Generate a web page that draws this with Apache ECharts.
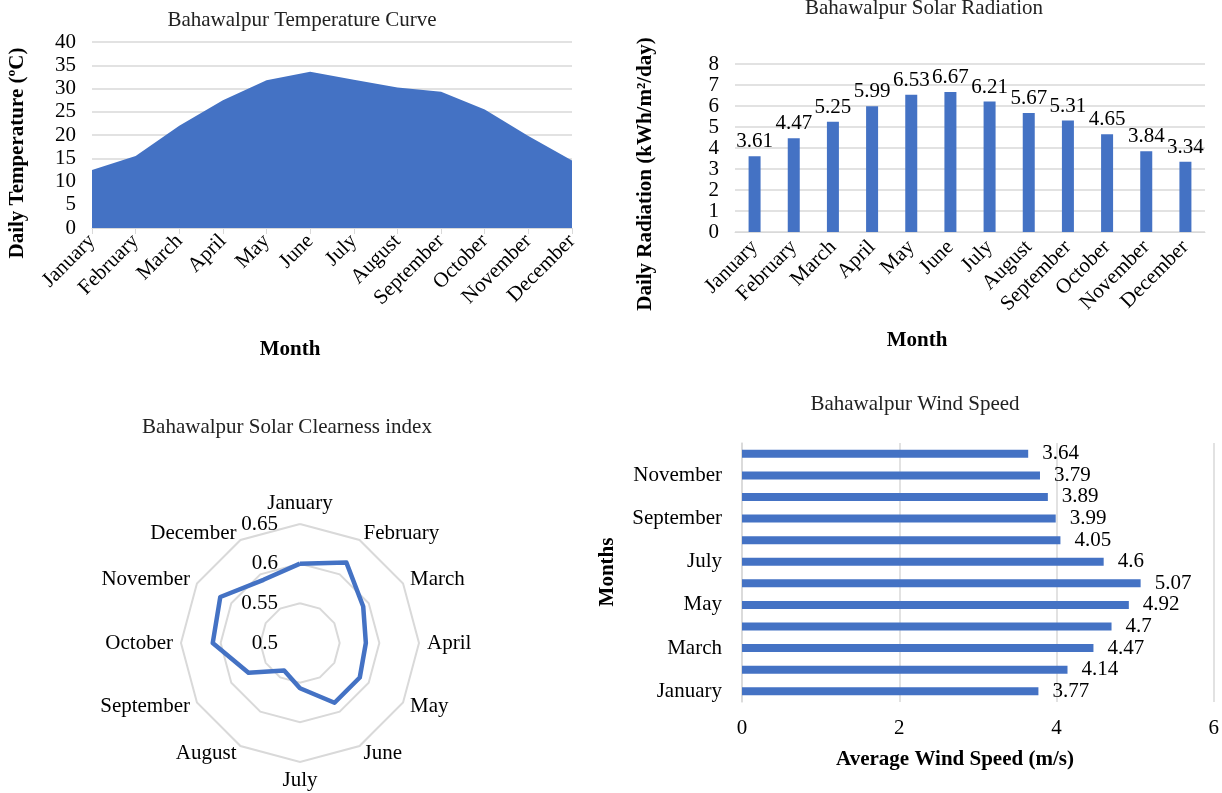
<!DOCTYPE html>
<html>
<head>
<meta charset="utf-8">
<script src="https://cdn.jsdelivr.net/npm/echarts@6/dist/echarts.min.js"></script>
<style>
  html, body { margin: 0; padding: 0; background: #fff; }
  #main { width: 1222px; height: 793px; }
</style>
</head>
<body>
<div id="main"></div>
<script>
// data
const months = ['January', 'February', 'March', 'April', 'May', 'June', 'July',
  'August', 'September', 'October', 'November', 'December'];
const temperature = [12.5, 15.5, 22, 27.5, 31.8, 33.6, 31.9, 30.2, 29.3, 25.5, 19.8, 14.5];
const radiation = [3.61, 4.47, 5.25, 5.99, 6.53, 6.67, 6.21, 5.67, 5.31, 4.65, 3.84, 3.34];
const clearness = [0.600, 0.617, 0.592, 0.583, 0.587, 0.587, 0.557, 0.540, 0.575, 0.610, 0.616, 0.592];
const windSpeed = [3.77, 4.14, 4.47, 4.7, 4.92, 5.07, 4.6, 4.05, 3.99, 3.89, 3.79, 3.64];
const tempTicks = [0, 5, 10, 15, 20, 25, 30, 35, 40];
const radTicks = [0, 1, 2, 3, 4, 5, 6, 7, 8];
const clearTicks = [0.5, 0.55, 0.6, 0.65];
const windTicks = [0, 2, 4, 6];

const FONT = 'Liberation Serif';
const BLUE = '#4472C4';
const GRID = '#d9d9d9';
const FS = 21;

// radar in echarts runs counter-clockwise, Excel runs clockwise -> reverse after January
const radarOrder = [0].concat(months.slice(1).map((m, i) => i + 1).reverse());

const myChart = echarts.init(document.getElementById('main'));

const titleStyle = { fontFamily: FONT, fontSize: 21, fontWeight: 'normal', color: '#222' };
const tickLabel = { fontFamily: FONT, fontSize: FS, color: '#000' };

function axisTitle(text, x, y, vertical) {
  return {
    type: 'text', x: x, y: y, rotation: vertical ? Math.PI / 2 : 0,
    style: {
      text: text, font: 'bold ' + FS + 'px "' + FONT + '"', fill: '#000',
      align: 'center', verticalAlign: 'middle'
    }
  };
}

const options = {
  animation: false,
  backgroundColor: '#fff',
  title: [
    { text: 'Bahawalpur Temperature Curve', left: 302, top: 10, padding: 0, textAlign: 'center', textStyle: titleStyle },
    { text: 'Bahawalpur Solar Radiation', left: 924, top: -2, padding: 0, textAlign: 'center', textStyle: titleStyle },
    { text: 'Bahawalpur Solar Clearness index', left: 287, top: 417, padding: 0, textAlign: 'center', textStyle: titleStyle },
    { text: 'Bahawalpur Wind Speed', left: 915, top: 394, padding: 0, textAlign: 'center', textStyle: titleStyle }
  ],
  grid: [
    { left: 92, top: 42, width: 480, height: 186 },
    { left: 735, top: 64, width: 470, height: 168 },
    { left: 742, top: 443, width: 472, height: 259 }
  ],
  xAxis: [
    {
      gridIndex: 0, type: 'category', data: months, boundaryGap: false,
      axisLine: { lineStyle: { color: GRID } },
      axisTick: { show: true, length: 6, lineStyle: { color: GRID } },
      axisLabel: Object.assign({ rotate: 45, margin: 10, interval: 0 }, tickLabel)
    },
    {
      gridIndex: 1, type: 'category', data: months,
      axisLine: { lineStyle: { color: GRID } },
      axisTick: { show: false },
      axisLabel: Object.assign({ rotate: 45, margin: 12, interval: 0 }, tickLabel)
    },
    {
      gridIndex: 2, type: 'value', min: windTicks[0], max: windTicks[windTicks.length - 1], interval: 2,
      axisLine: { show: false }, axisTick: { show: false },
      splitLine: { lineStyle: { color: GRID, width: 1.5 } },
      axisLabel: Object.assign({ margin: 16 }, tickLabel)
    }
  ],
  yAxis: [
    {
      gridIndex: 0, type: 'value', min: tempTicks[0], max: tempTicks[tempTicks.length - 1], interval: 5,
      axisLine: { show: false }, axisTick: { show: false },
      splitLine: { lineStyle: { color: GRID, width: 1.5 } },
      axisLabel: Object.assign({ margin: 16 }, tickLabel)
    },
    {
      gridIndex: 1, type: 'value', min: radTicks[0], max: radTicks[radTicks.length - 1], interval: 1,
      axisLine: { show: false }, axisTick: { show: false },
      splitLine: { lineStyle: { color: GRID, width: 1.5 } },
      axisLabel: Object.assign({ margin: 16 }, tickLabel)
    },
    {
      gridIndex: 2, type: 'category', data: months,
      axisLine: { lineStyle: { color: GRID, width: 1.5 } },
      axisTick: { show: false },
      axisLabel: Object.assign({ margin: 20, interval: 1 }, tickLabel)
    }
  ],
  radar: {
    center: [300, 643],
    radius: 119,
    startAngle: 90,
    splitNumber: 3,
    shape: 'polygon',
    nameGap: 8,
    axisName: { color: '#000', fontFamily: FONT, fontSize: FS },
    axisLine: { show: false },
    axisTick: { show: false },
    axisLabel: { show: false },
    splitArea: { show: false },
    splitLine: { lineStyle: { color: GRID, width: 2 } },
    indicator: radarOrder.map((idx, k) => {
      const ind = { name: months[idx], min: clearTicks[0], max: clearTicks[clearTicks.length - 1] };
      if (k === 0) {
        ind.axisLabel = Object.assign({
          show: true, margin: 22, showMinLabel: true,
          formatter: v => String(Math.round(v * 100) / 100)
        }, tickLabel);
      }
      return ind;
    })
  },
  series: [
    {
      type: 'line', xAxisIndex: 0, yAxisIndex: 0, data: temperature,
      symbol: 'none', lineStyle: { width: 0 },
      areaStyle: { color: BLUE, opacity: 1 }
    },
    {
      type: 'bar', xAxisIndex: 1, yAxisIndex: 1, data: radiation,
      barWidth: 12, itemStyle: { color: BLUE },
      label: Object.assign({ show: true, position: 'top', distance: 4 }, tickLabel)
    },
    {
      type: 'bar', xAxisIndex: 2, yAxisIndex: 2, data: windSpeed,
      barWidth: 8, itemStyle: { color: BLUE },
      label: Object.assign({ show: true, position: 'right', distance: 14 }, tickLabel)
    },
    {
      type: 'radar', symbol: 'none',
      lineStyle: { color: BLUE, width: 4.5 },
      data: [{ value: radarOrder.map(i => clearness[i]) }]
    }
  ],
  graphic: [
    axisTitle('Daily Temperature (ºC)', 18, 153, true),
    axisTitle('Month', 290, 350, false),
    axisTitle('Daily Radiation (kWh/m²/day)', 646, 174, true),
    axisTitle('Month', 917, 341, false),
    axisTitle('Months', 608, 572, true),
    axisTitle('Average Wind Speed (m/s)', 955, 760, false)
  ]
};

myChart.setOption(options);
</script>
</body>
</html>
